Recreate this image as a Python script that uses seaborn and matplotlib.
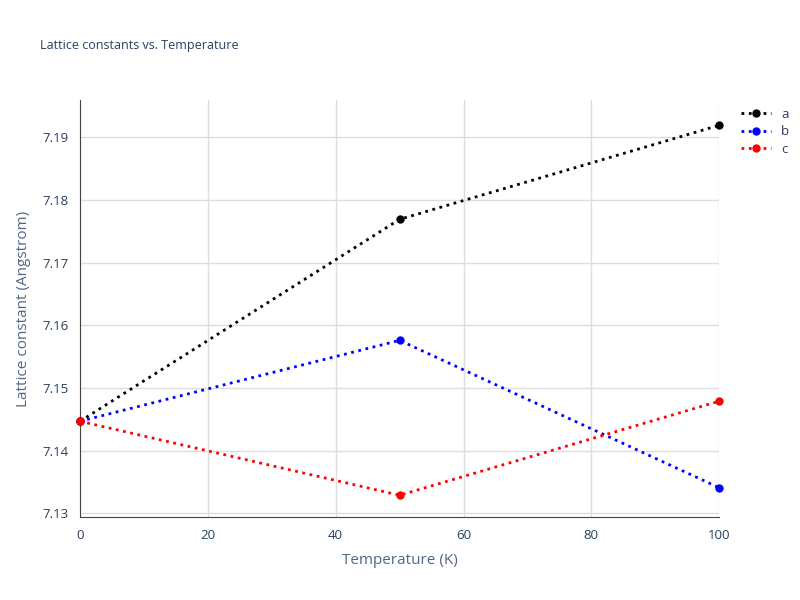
import matplotlib
matplotlib.use("Agg")
import matplotlib.pyplot as plt
import seaborn as sns
import pandas as pd

temps = [0, 50, 100]
a_vals = [7.1447, 7.1769, 7.1919]
b_vals = [7.1447, 7.1576, 7.1341]
c_vals = [7.1447, 7.1329, 7.1479]
series = ["a", "b", "c"]
colors = ["black", "blue", "red"]

df = pd.DataFrame({
    "T": temps * 3,
    "v": a_vals + b_vals + c_vals,
    "s": sum([[s] * 3 for s in series], []),
})

sns.set_style("white")
plt.rcParams["font.family"] = ["Open Sans", "DejaVu Sans"]
fig = plt.figure(figsize=(8, 6), dpi=100)
ax = fig.add_axes([0.1, 0.138, 0.799, 0.695])
sns.lineplot(data=df, x="T", y="v", hue="s", palette=colors, marker="o",
             markersize=6, markeredgewidth=0, linestyle=":", linewidth=2,
             ax=ax, legend=False, clip_on=False, zorder=3)
ax.set_xlim(0, 100)
ax.set_ylim(7.1294, 7.1959)
ax.set_xticks([0, 20, 40, 60, 80, 100])
ax.set_yticks([7.13, 7.14, 7.15, 7.16, 7.17, 7.18, 7.19])
ax.set_yticklabels([f"{v:.2f}" for v in ax.get_yticks()])
ax.grid(True, color="#dddddd", linewidth=1)
for s in ["top", "right"]:
    ax.spines[s].set_visible(False)
for s in ["left", "bottom"]:
    ax.spines[s].set_color("#444444")
ax.minorticks_on()
ax.tick_params(which="both", direction="out", colors="#444444", labelcolor="#2a3f5f", labelsize=9.5)
ax.tick_params(which="major", length=5)
ax.tick_params(which="minor", length=3)
ax.grid(False, which="minor")
ax.set_xlabel("Temperature (K)", color="#506784", fontsize=11, labelpad=8)
ax.set_ylabel("Lattice constant (Angstrom)", color="#506784", fontsize=11, labelpad=8)
fig.text(0.05, 0.918, "Lattice constants vs. Temperature", color="#2a3f5f", fontsize=9)

from matplotlib.lines import Line2D
handles = [Line2D([], [], color=c, linestyle=":", linewidth=2, marker="o", markersize=5)
           for c in colors]
fig.legend(handles, series, loc="upper left", bbox_to_anchor=(0.912, 0.84),
           frameon=False, fontsize=9.5, labelcolor="#2a3f5f", handlelength=2.2,
           labelspacing=0.35)
fig.savefig("out.png", dpi=100)
